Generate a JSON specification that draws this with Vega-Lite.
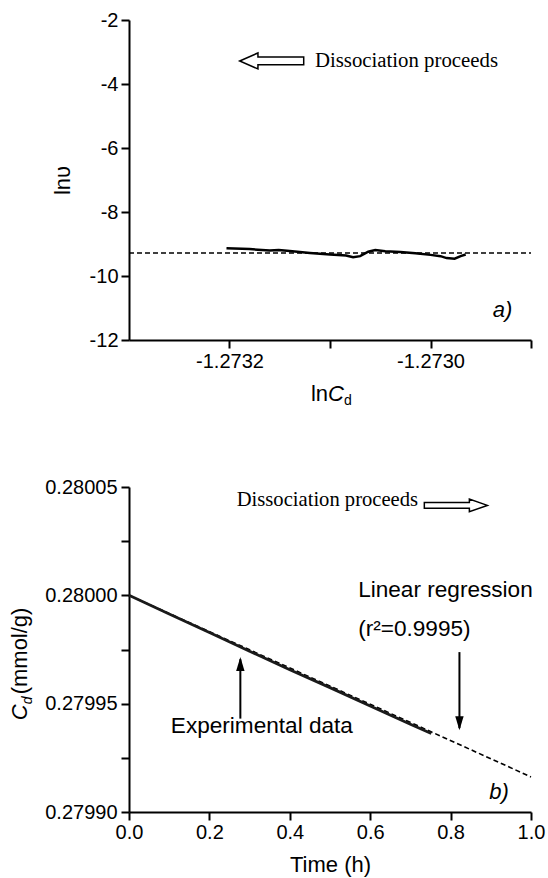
{
  "$schema": "https://vega.github.io/schema/vega-lite/v6.json",
  "background": "white",
  "padding": {"left": 9, "top": 10, "right": 5, "bottom": 5},
  "spacing": 69,
  "config": {
    "view": {"stroke": null},
    "axis": {
      "domainColor": "black", "domainWidth": 2,
      "tickColor": "black", "tickWidth": 2, "tickSize": 8,
      "labelFont": "Liberation Sans", "labelFontSize": 20, "labelColor": "black",
      "titleFont": "Liberation Sans", "titleFontSize": 22, "titleFontWeight": "normal", "titleColor": "black",
      "grid": false, "labelOverlap": false, "labelFlush": false
    }
  },
  "vconcat": [
    {
      "width": 402,
      "height": 320,
      "encoding": {
        "x": {
          "field": "lnCd", "type": "quantitative",
          "scale": {"domain": [-1.2733, -1.2729], "nice": false, "zero": false},
          "axis": {
            "values": [-1.2732, -1.2731, -1.273, -1.2729],
            "labelExpr": "abs(datum.value + 1.2732) < 1e-8 ? '-1.2732' : (abs(datum.value + 1.273) < 1e-8 ? '-1.2730' : '')",
            "title": null, "labelPadding": 3
          }
        },
        "y": {
          "field": "lnv", "type": "quantitative",
          "scale": {"domain": [-12, -2], "nice": false, "zero": false},
          "axis": {
            "values": [-12, -10, -8, -6, -4, -2],
            "labelExpr": "'' + datum.value",
            "title": "lnυ", "titlePadding": 15, "labelPadding": 3
          }
        }
      },
      "layer": [
        {
          "data": {"values": [{"lnCd": -1.2733, "lnv": -9.28}, {"lnCd": -1.2729, "lnv": -9.28}]},
          "mark": {"type": "line", "color": "black", "strokeWidth": 1.6, "strokeDash": [5, 3]}
        },
        {
          "data": {"values": [
            {"lnCd": -1.273203, "lnv": -9.13}, {"lnCd": -1.27318, "lnv": -9.16},
            {"lnCd": -1.27316, "lnv": -9.2}, {"lnCd": -1.273151, "lnv": -9.19},
            {"lnCd": -1.27314, "lnv": -9.22}, {"lnCd": -1.27312, "lnv": -9.28},
            {"lnCd": -1.2731, "lnv": -9.33}, {"lnCd": -1.273084, "lnv": -9.36},
            {"lnCd": -1.273077, "lnv": -9.41}, {"lnCd": -1.27307, "lnv": -9.38},
            {"lnCd": -1.273062, "lnv": -9.24}, {"lnCd": -1.273055, "lnv": -9.19},
            {"lnCd": -1.273045, "lnv": -9.23}, {"lnCd": -1.27303, "lnv": -9.25},
            {"lnCd": -1.273015, "lnv": -9.29}, {"lnCd": -1.273, "lnv": -9.34},
            {"lnCd": -1.27299, "lnv": -9.38}, {"lnCd": -1.272984, "lnv": -9.44},
            {"lnCd": -1.272976, "lnv": -9.46}, {"lnCd": -1.27297, "lnv": -9.38},
            {"lnCd": -1.272965, "lnv": -9.33}
          ]},
          "mark": {"type": "line", "color": "black", "strokeWidth": 2.5}
        },
        {
          "data": {"values": [{"lnCd": -1.273158, "lnv": -3.28}]},
          "mark": {"type": "point", "shape": "M -1 0 L -0.43 -0.25 L -0.43 -0.12 L 1 -0.12 L 1 0.12 L -0.43 0.12 L -0.43 0.25 Z", "size": 4096, "filled": false, "stroke": "black", "strokeWidth": 1.5, "opacity": 1}
        },
        {
          "data": {"values": [{"lnCd": -1.273115, "lnv": -3.28, "label": "Dissociation proceeds"}]},
          "mark": {"type": "text", "font": "Liberation Serif", "fontSize": 20.8, "align": "left", "baseline": "middle", "color": "black"},
          "encoding": {"text": {"field": "label"}}
        },
        {
          "data": {"values": [{"lnCd": -1.272938, "lnv": -11.06, "label": "a)"}]},
          "mark": {"type": "text", "font": "Liberation Sans", "fontSize": 22, "fontStyle": "italic", "align": "left", "baseline": "middle", "color": "black"},
          "encoding": {"text": {"field": "label"}}
        },
        {
          "data": {"values": [{"lnCd": -1.273119, "lnv": -13.69, "label": "ln"}]},
          "mark": {"type": "text", "font": "Liberation Sans", "fontSize": 22, "align": "left", "baseline": "middle", "color": "black"},
          "encoding": {"text": {"field": "label"}}
        },
        {
          "data": {"values": [{"lnCd": -1.273102, "lnv": -13.69, "label": "C"}]},
          "mark": {"type": "text", "font": "Liberation Sans", "fontSize": 22, "fontStyle": "italic", "align": "left", "baseline": "middle", "color": "black"},
          "encoding": {"text": {"field": "label"}}
        },
        {
          "data": {"values": [{"lnCd": -1.273086, "lnv": -13.9, "label": "d"}]},
          "mark": {"type": "text", "font": "Liberation Sans", "fontSize": 14, "align": "left", "baseline": "middle", "color": "black"},
          "encoding": {"text": {"field": "label"}}
        }
      ]
    },
    {
      "width": 402,
      "height": 325,
      "encoding": {
        "x": {
          "field": "time", "type": "quantitative",
          "scale": {"domain": [0, 1], "nice": false, "zero": false},
          "axis": {"values": [0, 0.2, 0.4, 0.6, 0.8, 1], "format": ".1f", "title": "Time (h)", "labelPadding": 2, "titlePadding": 12}
        },
        "y": {
          "field": "cd", "type": "quantitative",
          "scale": {"domain": [0.2799, 0.28005], "nice": false, "zero": false},
          "axis": {
            "values": [0.2799, 0.279925, 0.27995, 0.279975, 0.28, 0.280025, 0.28005],
            "labelExpr": "abs(datum.value * 20000 - round(datum.value * 20000)) < 0.01 ? format(datum.value, '.5f') : ''",
            "title": null, "labelPadding": 4
          }
        }
      },
      "layer": [
        {
          "data": {"values": [{"time": 0, "cd": 0.28}, {"time": 1, "cd": 0.2799162}]},
          "mark": {"type": "line", "color": "black", "strokeWidth": 1.6, "strokeDash": [5, 3]}
        },
        {
          "data": {"values": [
            {"time": 0, "cd": 0.28}, {"time": 0.1, "cd": 0.2799914},
            {"time": 0.2, "cd": 0.2799828}, {"time": 0.3, "cd": 0.2799742},
            {"time": 0.322, "cd": 0.2799723}, {"time": 0.4, "cd": 0.2799657},
            {"time": 0.5, "cd": 0.2799574}, {"time": 0.6, "cd": 0.2799489},
            {"time": 0.7, "cd": 0.2799405}, {"time": 0.752, "cd": 0.2799362}
          ]},
          "mark": {"type": "line", "color": "#1a1a1a", "strokeWidth": 2.8}
        },
        {
          "data": {"values": [
            {"time": 0.277, "cd": 0.2799431, "cd2": 0.2799705},
            {"time": 0.822, "cd": 0.2799738, "cd2": 0.2799387}
          ]},
          "mark": {"type": "rule", "color": "black", "strokeWidth": 2},
          "encoding": {"y2": {"field": "cd2"}}
        },
        {
          "data": {"values": [
            {"time": 0.277, "cd": 0.2799715, "dir": "up"},
            {"time": 0.822, "cd": 0.2799377, "dir": "down"}
          ]},
          "mark": {"type": "point", "filled": true, "color": "black", "opacity": 1, "size": 784},
          "encoding": {
            "shape": {"field": "dir", "type": "nominal", "legend": null,
              "scale": {"domain": ["up", "down"], "range": ["M 0 0 L 0.3 1 L -0.3 1 Z", "M 0 0 L 0.3 -1 L -0.3 -1 Z"]}}
          }
        },
        {
          "data": {"values": [{"time": 0.813, "cd": 0.2800415}]},
          "mark": {"type": "point", "shape": "M 1 0 L 0.43 -0.2 L 0.43 -0.09 L -1 -0.09 L -1 0.09 L 0.43 0.09 L 0.43 0.2 Z", "size": 3969, "filled": false, "stroke": "black", "strokeWidth": 1.5, "opacity": 1}
        },
        {
          "data": {"values": [{"time": 0.268, "cd": 0.2800438, "label": "Dissociation proceeds"}]},
          "mark": {"type": "text", "font": "Liberation Serif", "fontSize": 20.6, "align": "left", "baseline": "middle", "color": "black"},
          "encoding": {"text": {"field": "label"}}
        },
        {
          "data": {"values": [
            {"time": 0.57, "cd": 0.2800023, "label": "Linear regression"},
            {"time": 0.57, "cd": 0.2799846, "label": "(r²=0.9995)"},
            {"time": 0.104, "cd": 0.2799395, "label": "Experimental data"}
          ]},
          "mark": {"type": "text", "font": "Liberation Sans", "fontSize": 22.6, "align": "left", "baseline": "middle", "color": "black"},
          "encoding": {"text": {"field": "label"}}
        },
        {
          "data": {"values": [{"time": 0.896, "cd": 0.2799092, "label": "b)"}]},
          "mark": {"type": "text", "font": "Liberation Sans", "fontSize": 22, "fontStyle": "italic", "align": "left", "baseline": "middle", "color": "black"},
          "encoding": {"text": {"field": "label"}}
        },
        {
          "data": {"values": [{"time": -0.2705, "cd": 0.2799423, "label": "C"}]},
          "mark": {"type": "text", "font": "Liberation Sans", "fontSize": 22, "fontStyle": "italic", "angle": 270, "align": "left", "baseline": "middle", "color": "black"},
          "encoding": {"text": {"field": "label"}}
        },
        {
          "data": {"values": [{"time": -0.2506, "cd": 0.2799497, "label": "d"}]},
          "mark": {"type": "text", "font": "Liberation Sans", "fontSize": 14, "fontStyle": "italic", "angle": 270, "align": "left", "baseline": "middle", "color": "black"},
          "encoding": {"text": {"field": "label"}}
        },
        {
          "data": {"values": [{"time": -0.2705, "cd": 0.2799543, "label": "(mmol/g)"}]},
          "mark": {"type": "text", "font": "Liberation Sans", "fontSize": 22, "angle": 270, "align": "left", "baseline": "middle", "color": "black"},
          "encoding": {"text": {"field": "label"}}
        }
      ]
    }
  ]
}
